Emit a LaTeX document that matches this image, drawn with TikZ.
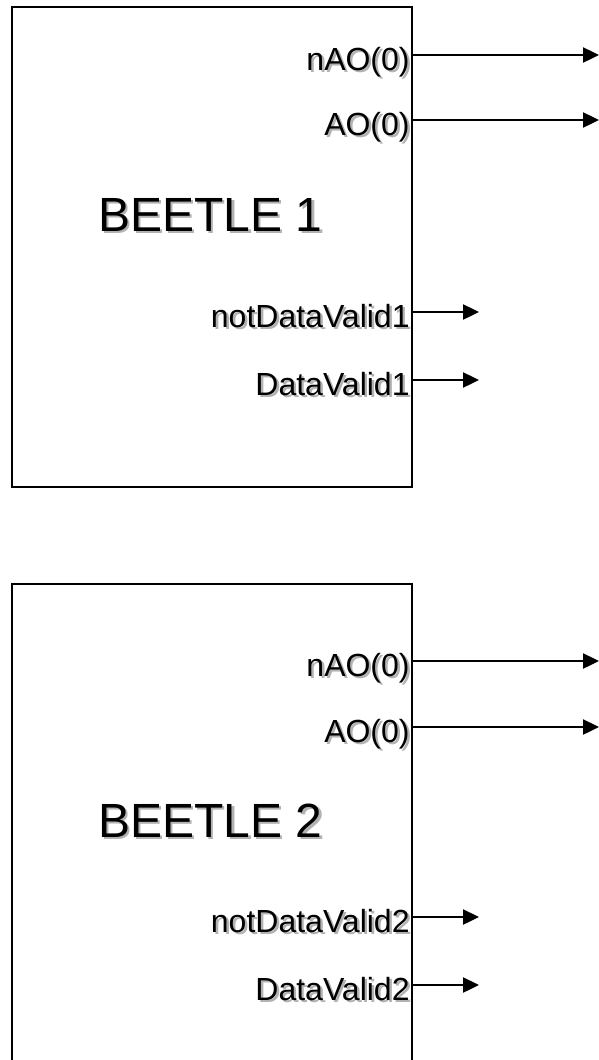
\documentclass[tikz,border=0pt]{standalone}
\usepackage{fontspec}
\setmainfont{Liberation Sans}
\usetikzlibrary{arrows.meta}

% text with a light drop shadow
\newcommand{\shadowtext}[1]{\makebox[0pt][l]{\kern1.2pt\raisebox{-1.2pt}{\color{black!30}#1}}#1}

\begin{document}
\begin{tikzpicture}[x=0.5pt,y=-0.5pt,>={Triangle[length=8pt,width=7.5pt]},
  chipbox/.style={line width=1.4pt},
  sig/.style={->,line width=1.2pt},
  pinlabel/.style={font=\fontsize{16}{19}\selectfont,inner sep=0pt,anchor=base east},
  chipname/.style={font=\fontsize{24}{29}\selectfont,inner sep=0pt,anchor=base west}]
  \useasboundingbox (0,0) rectangle (599,1060);
  \clip (0,0) rectangle (599,1060);

  % first chip
  \draw [chipbox] (12,7) rectangle (412,487);
  \node [chipname] (name1) at (98,231) {\shadowtext{BEETLE 1}};
  \node [pinlabel] (nao1) at (410,70) {\shadowtext{nAO(0)}};
  \node [pinlabel] (ao1) at (410,135) {\shadowtext{AO(0)}};
  \node [pinlabel] (ndv1) at (410,327) {\shadowtext{notDataValid1}};
  \node [pinlabel] (dv1) at (410,395) {\shadowtext{DataValid1}};
  \coordinate (nao1end) at (599,55);
  \coordinate (ao1end) at (599,120);
  \coordinate (ndv1end) at (479,312);
  \coordinate (dv1end) at (479,380);
  \draw [sig] ([xshift=1pt]nao1.east |- nao1end) -- (nao1end);
  \draw [sig] ([xshift=1pt]ao1.east |- ao1end) -- (ao1end);
  \draw [sig] ([xshift=1pt]ndv1.east |- ndv1end) -- (ndv1end);
  \draw [sig] ([xshift=1pt]dv1.east |- dv1end) -- (dv1end);

  % second chip
  \draw [chipbox] (12,584) rectangle (412,1080);
  \node [chipname] (name2) at (98,837) {\shadowtext{BEETLE 2}};
  \node [pinlabel] (nao2) at (410,676) {\shadowtext{nAO(0)}};
  \node [pinlabel] (ao2) at (410,742) {\shadowtext{AO(0)}};
  \node [pinlabel] (ndv2) at (410,932) {\shadowtext{notDataValid2}};
  \node [pinlabel] (dv2) at (410,1000) {\shadowtext{DataValid2}};
  \coordinate (nao2end) at (599,661);
  \coordinate (ao2end) at (599,727);
  \coordinate (ndv2end) at (479,917);
  \coordinate (dv2end) at (479,985);
  \draw [sig] ([xshift=1pt]nao2.east |- nao2end) -- (nao2end);
  \draw [sig] ([xshift=1pt]ao2.east |- ao2end) -- (ao2end);
  \draw [sig] ([xshift=1pt]ndv2.east |- ndv2end) -- (ndv2end);
  \draw [sig] ([xshift=1pt]dv2.east |- dv2end) -- (dv2end);
\end{tikzpicture}
\end{document}
